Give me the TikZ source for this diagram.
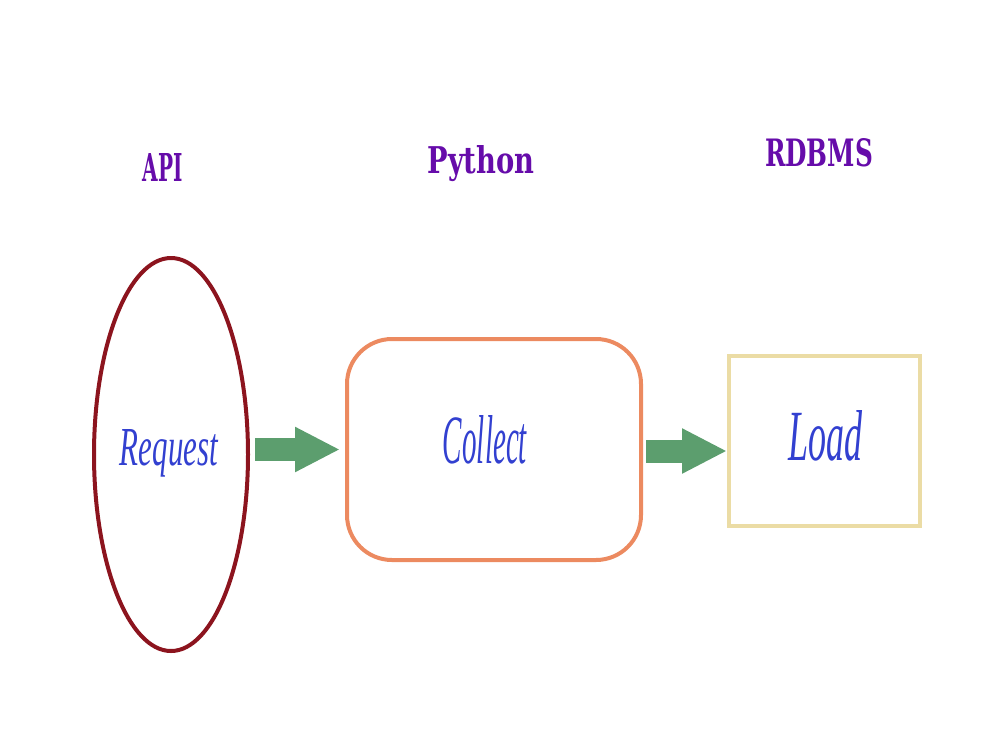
\documentclass[tikz,border=0pt]{standalone}
\usepackage{fontspec}
\usepackage{graphicx}
\setmainfont{Liberation Serif}
\newfontfamily\headfont{DejaVu Serif}
\usetikzlibrary{shapes.geometric,arrows.meta}
\definecolor{ellred}{RGB}{140,20,30}
\definecolor{boxorange}{RGB}{236,138,96}
\definecolor{boxtan}{RGB}{235,220,165}
\definecolor{arrgreen}{RGB}{92,158,110}
\definecolor{headpurple}{RGB}{102,12,170}
\definecolor{scriptblue}{RGB}{50,64,208}
\tikzset{
  headlabel/.style={anchor=base, inner sep=0pt, text=headpurple, font=\headfont\bfseries},
  scriptlabel/.style={anchor=base, inner sep=0pt, text=scriptblue, font=\itshape},
  flowarrow/.style={draw=arrgreen, line width=23pt, -{Triangle[length=45pt,width=42pt]}, arrgreen},
}
\begin{document}
\begin{tikzpicture}[x=1pt,y=-1pt]
\useasboundingbox (0,0) rectangle (1000,750);
% headings
\node[headlabel] (api) at (163,181) {\resizebox{40pt}{28pt}{API}};
\node[headlabel] (python) at (481,173) {\resizebox{107pt}{28pt}{Python}};
\node[headlabel] (rdbms) at (819,166) {\resizebox{108pt}{28pt}{RDBMS}};
% shapes
\node[ellipse, draw=ellred, line width=4pt, minimum width=154pt, minimum height=393pt, inner sep=0pt] (req) at (171,454.5) {};
\node[rectangle, rounded corners=45pt, draw=boxorange, line width=4pt, minimum width=294pt, minimum height=221pt, inner sep=0pt] (col) at (494,449.5) {};
\node[rectangle, draw=boxtan, line width=4pt, minimum width=191pt, minimum height=170pt, inner sep=0pt] (load) at (824.5,441) {};
% texts
\node[scriptlabel] (reqt) at (169,465) {\resizebox{98pt}{36pt}{Request}};
\node[scriptlabel] (colt) at (485,463) {\resizebox{84pt}{48pt}{Collect}};
\node[scriptlabel] (loadt) at (825,460) {\resizebox{74pt}{50pt}{Load}};
% arrows
\draw[flowarrow, shorten <=5pt, shorten >=5pt] (req.east |- col.west) -- (col.west);
\draw[flowarrow, shorten <=3pt, shorten >=0pt] ([yshift=-1.5pt]col.east) -- ([yshift=-1.5pt]col.east -| load.west);
\end{tikzpicture}
\end{document}
